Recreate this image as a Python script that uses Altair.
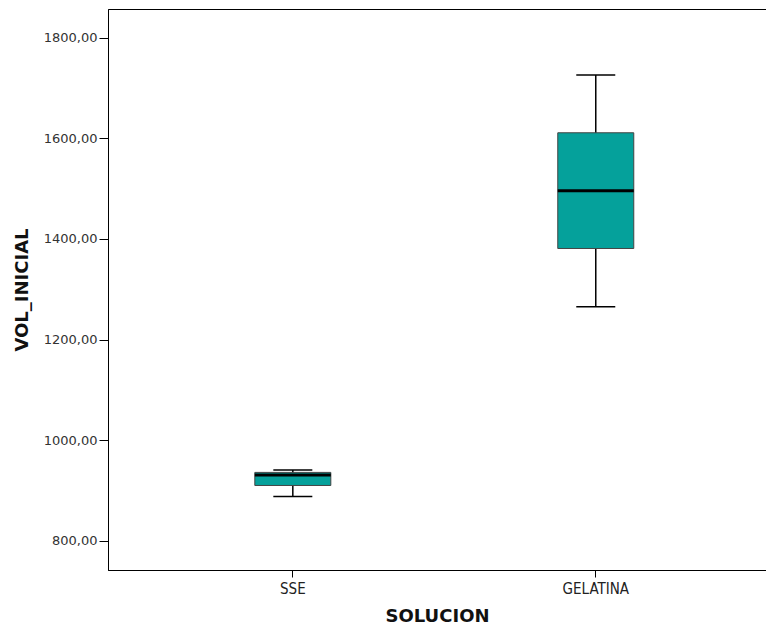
import altair as alt
import pandas as pd

categories = ["SSE", "GELATINA"]
mins = [888, 1265]
q1s = [910, 1381]
medians = [931, 1496]
q3s = [936, 1611]
maxs = [941, 1726]
y_ticks = [800, 1000, 1200, 1400, 1600, 1800]

df = pd.DataFrame({
    "SOLUCION": categories,
    "min": mins,
    "q1": q1s,
    "median": medians,
    "q3": q3s,
    "max": maxs,
})

x = alt.X(
    "SOLUCION:N",
    sort=categories,
    title="SOLUCION",
    scale=alt.Scale(paddingInner=0, paddingOuter=0.086, align=0.64),
    axis=alt.Axis(
        labelAngle=0,
        labelFont="DejaVu Sans Condensed",
        labelFontSize=15,
        labelColor="#222",
        labelPadding=4,
        tickSize=7,
        titleFont="DejaVu Sans",
        titleFontSize=18,
        titleFontWeight="bold",
        titleColor="#111",
        titlePadding=11,
    ),
)

yscale = alt.Scale(domain=[742, 1857], nice=False, zero=False)
yaxis = alt.Axis(
    values=y_ticks,
    labelExpr="replace(format(datum.value, '.2f'), '.', ',')",
    labelFont="DejaVu Sans",
    labelFontSize=13,
    labelColor="#333",
    labelPadding=2,
    tickSize=9,
    grid=False,
    titleFont="DejaVu Sans",
    titleFontSize=18,
    titleFontWeight="bold",
    titleColor="#111",
    titlePadding=12,
)

base = alt.Chart(df)

whisker = base.mark_rule(color="black", strokeWidth=1.5).encode(
    x=x,
    y=alt.Y("min:Q", scale=yscale, axis=yaxis, title="VOL_INICIAL"),
    y2="max:Q",
)

box = base.mark_bar(size=76, color="#05A19B", stroke="#444", strokeWidth=1, opacity=1).encode(
    x=x,
    y=alt.Y("q1:Q", scale=yscale),
    y2="q3:Q",
)

median = base.mark_tick(size=76, thickness=3, color="black", opacity=1).encode(
    x=x,
    y=alt.Y("median:Q", scale=yscale),
)

cap_low = base.mark_tick(size=39, thickness=1.5, color="black", opacity=1).encode(
    x=x,
    y=alt.Y("min:Q", scale=yscale),
)

cap_high = base.mark_tick(size=39, thickness=1.5, color="black", opacity=1).encode(
    x=x,
    y=alt.Y("max:Q", scale=yscale),
)

chart = (
    alt.layer(whisker, box, median, cap_low, cap_high)
    .properties(
        width=658,
        height=561,
        autosize=alt.AutoSizeParams(type="none"),
        padding={"left": 100, "top": 1, "right": 0, "bottom": 58},
        background="white",
    )
    .configure_view(stroke="black", strokeWidth=1)
    .configure_axis(domainColor="black", tickColor="black", domainWidth=1)
)

chart.save("out.html", embed_options={"renderer": "svg", "actions": False})
